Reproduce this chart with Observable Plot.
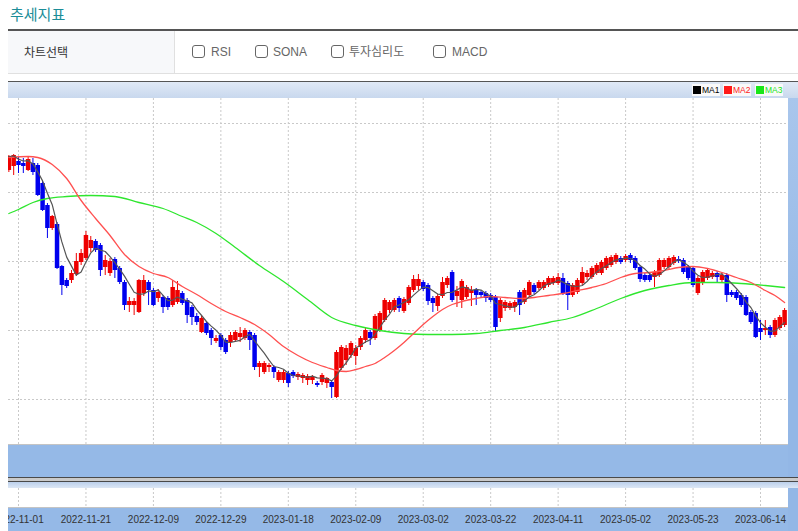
<!DOCTYPE html>
<html><head><meta charset="utf-8">
<script src="https://cdn.jsdelivr.net/npm/d3@7"></script>
<script src="https://cdn.jsdelivr.net/npm/@observablehq/plot@0.6"></script>
<style>
html,body{margin:0;padding:0;background:#fff;}
body{width:798px;height:531px;position:relative;overflow:hidden;font-family:"Liberation Sans","Noto Sans CJK KR",sans-serif;}
.abs{position:absolute;}
#title{left:10px;top:4px;font-family:"Noto Sans CJK KR",sans-serif;font-size:15px;line-height:20px;color:#1b8d98;}
#selrow{left:8px;top:29px;width:790px;height:42px;border-top:2px solid #555;border-bottom:1px solid #e0e0e0;}
#selhead{left:0;top:0;width:167px;height:42px;background:#f7f8fa;border-right:1px solid #e0e0e0;box-sizing:border-box;padding-left:16px;font-family:"Noto Sans CJK KR",sans-serif;font-size:12px;line-height:42px;color:#333;}
.cb{top:15px;width:11px;height:11px;border:1px solid #666;border-radius:3px;background:#fff;}
.cbl{top:13px;font-size:12px;line-height:16px;color:#666;}
.cbl.kr{font-family:"Noto Sans CJK KR",sans-serif;}
#ptop{left:8px;top:81px;width:790px;height:1px;background:#555;}
#pband{left:8px;top:82px;width:790px;height:16px;background:linear-gradient(#e0e9f6,#c8d8ee);}
#pright{left:788px;top:98px;width:10px;height:433px;background:linear-gradient(#a9c6ec,#93b7e6 60%);}
#pwhite{left:8px;top:98px;width:780px;height:346px;background:#fff;border-bottom:1px solid #c4c4c4;box-sizing:content-box;}
#pblue1{left:8px;top:445px;width:780px;height:32px;background:#95b9e7;}
#sep1{left:8px;top:477px;width:790px;height:1px;background:#4a4a4a;}
#sep2{left:8px;top:478px;width:790px;height:3px;background:#cacaca;}
#sep3{left:8px;top:481px;width:790px;height:1px;background:#4a4a4a;}
#sep4{left:8px;top:482px;width:790px;height:6px;background:linear-gradient(#bcd0ec,#dde7f5);}
#bwhite{left:8px;top:488px;width:780px;height:19px;background:#fff;border-bottom:1px solid #c4c4c4;}
#bblue{left:8px;top:508px;width:780px;height:23px;background:#95b9e7;}
#main{left:8px;top:98px;width:780px;height:346px;overflow:hidden;}
#bottom{left:8px;top:488px;width:780px;height:43px;overflow:hidden;}
.lg{top:84px;height:12px;background:#f9f9f9;font-size:8.5px;line-height:12px;}
.lg span.sq{display:inline-block;width:8px;height:8px;vertical-align:-1px;margin:0 1px 0 1px;}
</style></head>
<body>
<div id="title" class="abs">추세지표</div>
<div id="selrow" class="abs">
  <div id="selhead" class="abs">차트선택</div>
</div>
<div class="abs cb" style="left:192px;top:45px"></div><div class="abs cbl" style="left:211px;top:44px">RSI</div>
<div class="abs cb" style="left:255px;top:45px"></div><div class="abs cbl" style="left:273px;top:44px">SONA</div>
<div class="abs cb" style="left:331px;top:45px"></div><div class="abs cbl kr" style="left:349px;top:43px">투자심리도</div>
<div class="abs cb" style="left:433px;top:45px"></div><div class="abs cbl" style="left:452px;top:44px">MACD</div>

<div id="ptop" class="abs"></div>
<div id="pband" class="abs"></div>
<div id="pright" class="abs"></div>
<div id="pwhite" class="abs"></div>
<div id="pblue1" class="abs"></div>
<div id="sep1" class="abs"></div><div id="sep2" class="abs"></div><div id="sep3" class="abs"></div><div id="sep4" class="abs"></div>
<div id="bwhite" class="abs"></div>
<div id="bblue" class="abs"></div>
<div id="main" class="abs"></div>
<div id="bottom" class="abs"></div>
<div id="legend"></div>

<script>
// ---- data (daily candles, oldest first) ----
const opens = [3300,3340,3390,3370,3300,3370,3350,3170,2950,2720, 2760,2340,2200,2200,2260,2380,2420,2520,2590,2550, 2330,2270,2410,2320,2180,1950,1950,1880,2070,2180, 2100,2020,2030,2020,1950,1980,2070,2000,1930,1840, 1680,1770,1700,1590,1650,1600,1580,1600,1630,1620, 1680,1650,1330,1280,1330,1330,1200,1200,1270,1280, 1230,1220,1200,1200,1170,1180,1170,1180,1030,1320, 1400,1450,1440,1530,1600,1680,1620,1700,1800,1900, 1900,2020,1890,1970,2100,2140,2180,2150,2020,1940, 2040,2150,2280,2040,2000,2030,2070,2100,2080,2070, 2050,2030,1820,1920,1920,1930,2080,1980,2050,2150, 2120,2120,2150,2170,2170,2220,2170,2050,2080,2170, 2230,2230,2270,2270,2320,2350,2380,2420,2400,2450, 2420,2330,2250,2250,2230,2250,2330,2330,2370,2410, 2400,2330,2320,2070,2170,2220,2230,2270,2200,2250, 2080,2080,2050,2030,1880,1870,1720,1700,1730,1650, 1720,1750];
const highs = [3450,3460,3430,3420,3430,3420,3370,3190,2970,2850, 2780,2350,2220,2300,2470,2510,2690,2640,2610,2570, 2450,2420,2430,2340,2200,2030,2020,2210,2250,2200, 2120,2110,2050,2040,2200,2190,2090,2020,1950,1870, 1840,1790,1720,1650,1670,1620,1680,1700,1730,1720, 1700,1670,1390,1390,1370,1350,1300,1300,1290,1300, 1280,1270,1260,1250,1190,1270,1230,1200,1500,1550, 1550,1590,1550,1640,1720,1700,1860,1890,2020,2000, 2020,2040,2030,2150,2250,2260,2200,2170,2040,2060, 2230,2240,2300,2140,2210,2150,2140,2120,2100,2090, 2070,2050,2020,2000,1990,2000,2100,2120,2200,2170, 2200,2200,2240,2240,2270,2270,2190,2170,2220,2330, 2300,2340,2370,2400,2440,2450,2470,2440,2460,2470, 2440,2350,2270,2270,2300,2420,2420,2440,2450,2440, 2420,2350,2340,2240,2300,2320,2290,2290,2270,2270, 2100,2100,2070,2050,1900,1890,1800,1800,1750,1820, 1850,1920];
const lows = [3280,3250,3270,3270,3290,3250,3040,2890,2620,2700, 2310,2050,2120,2170,2240,2350,2400,2480,2480,2240, 2250,2240,2220,2160,1900,1880,1850,1870,2040,1950, 1940,1980,1870,1900,1930,1960,1950,1770,1750,1750, 1670,1650,1550,1570,1500,1460,1530,1580,1580,1600, 1500,1300,1230,1260,1280,1220,1180,1170,1130,1220, 1200,1170,1150,1160,1130,1150,1120,1020,1020,1300, 1350,1420,1350,1500,1570,1550,1600,1680,1780,1870, 1880,1880,1870,1950,2080,2100,2090,1950,1880,1890, 2020,2120,1980,1930,1920,2010,1940,1950,2030,1980, 1980,1690,1780,1890,1900,1880,1850,1960,2030,2060, 2100,2100,2130,2150,2150,2050,1900,2030,2060,2150, 2200,2210,2250,2250,2300,2330,2360,2360,2380,2370, 2300,2180,2180,2180,2130,2230,2310,2310,2350,2370, 2260,2200,2130,2050,2150,2200,2210,2170,2180,1980, 2030,2000,1930,1840,1760,1620,1600,1650,1620,1630, 1700,1730];
const closes = [3440,3450,3350,3340,3410,3280,3050,2900,2720,2840, 2320,2150,2140,2270,2390,2470,2650,2600,2500,2300, 2400,2390,2300,2180,1950,1990,1990,2200,2200,2100, 1950,2080,1930,1930,2130,2100,1970,1850,1830,1780, 1820,1670,1620,1620,1530,1480,1650,1680,1670,1700, 1600,1330,1370,1370,1350,1280,1280,1280,1170,1240, 1260,1250,1240,1230,1150,1250,1220,1130,1480,1530, 1520,1570,1520,1620,1700,1620,1840,1870,2000,1980, 2000,1920,2010,2130,2210,2210,2110,1990,1970,2040, 2180,2220,2000,2090,2190,2130,2100,2050,2050,2020, 2000,1730,2000,1980,1970,1980,1950,2100,2180,2080, 2180,2180,2220,2220,2230,2070,2050,2150,2200,2280, 2270,2320,2350,2380,2420,2430,2450,2380,2440,2400, 2320,2210,2200,2200,2280,2400,2400,2420,2430,2390, 2280,2220,2150,2220,2280,2300,2270,2230,2250,2050, 2050,2020,1950,1850,1780,1630,1680,1720,1650,1800, 1830,1900];

// MA2 / MA3 (trading-day index, value)
const ma2Day = [0,4,6,9,12,15,18,21,24,27,30,33,36,39,42,45,48,51,54,57,60,63,66,68,70,72,74,76,78,80,82,84,86,88,90,92,94,97,100,103,106,109,112,115,118,121,124,127,130,133,136,139,142,145,148,151,154,157,159,161];
const ma2Val = [3430,3440,3430,3360,3220,3000,2820,2650,2460,2340,2270,2230,2140,2060,1970,1890,1830,1760,1660,1540,1450,1380,1330,1300,1290,1310,1340,1370,1430,1500,1580,1670,1760,1840,1910,1960,1990,2020,2040,2030,2020,2030,2050,2070,2100,2130,2170,2230,2270,2280,2300,2330,2340,2320,2280,2230,2180,2100,2050,1980];
const ma3Day = [0,2,5,8,12,17,22,27,32,36,39,43,47,52,57,62,67,72,77,82,87,92,97,102,107,112,117,122,127,132,137,142,147,152,157,161];
const ma3Val = [2870,2910,2980,3020,3040,3050,3040,2980,2920,2840,2780,2670,2530,2350,2190,2010,1830,1750,1700,1670,1660,1660,1670,1700,1730,1780,1830,1920,2020,2100,2150,2180,2180,2170,2150,2130];

const tickDays = [2,16,30,44,58,72,86,100,114,128,142,156];
const tickLabels = ["2022-11-01","2022-11-21","2022-12-09","2022-12-29","2023-01-18","2023-02-09","2023-03-02","2023-03-22","2023-04-11","2023-05-02","2023-05-23","2023-06-14"];
const gridPrices = [1010,1700,2390,3080,3770];

const legendNames = ["MA1","MA2","MA3"];
const legendColors = ["#000000","#ff1a1a","#19e619"];

// ---- build ----
const rows = opens.map((o, k) => ({d: k, o, h: highs[k], l: lows[k], c: closes[k]}));
const up = rows.filter(r => r.c >= r.o);
const down = rows.filter(r => r.c < r.o);
const ma2 = ma2Day.map((d, k) => ({d, v: ma2Val[k]}));
const ma3 = ma3Day.map((d, k) => ({d, v: ma3Val[k]}));
const labelOf = new Map(tickDays.map((d, k) => [d, tickLabels[k]]));

const xDomain = [-0.075, 161.81];
const RED = "#ee0000", BLUE = "#0000ee";
const grid = {stroke: "#c9c9c9", strokeDasharray: "2,2", strokeWidth: 1};

const main = Plot.plot({
  width: 780, height: 346, margin: 0,
  x: {domain: xDomain, axis: null},
  y: {domain: [560, 4020], axis: null},
  style: {background: "transparent"},
  marks: [
    Plot.ruleY(gridPrices, grid),
    Plot.ruleX(tickDays, grid),
    Plot.ruleX(up, {x: "d", y1: "l", y2: "h", stroke: RED, strokeWidth: 1}),
    Plot.ruleX(down, {x: "d", y1: "l", y2: "h", stroke: BLUE, strokeWidth: 1}),
    Plot.ruleX(up, {x: "d", y1: "o", y2: "c", stroke: RED, strokeWidth: 4.5}),
    Plot.ruleX(down, {x: "d", y1: "o", y2: "c", stroke: BLUE, strokeWidth: 4.5}),
    Plot.line(ma3, {x: "d", y: "v", stroke: "#2ee62e", strokeWidth: 1.3, curve: "monotone-x"}),
    Plot.line(ma2, {x: "d", y: "v", stroke: "#ff5050", strokeWidth: 1.3, curve: "monotone-x"}),
    Plot.lineY(rows, Plot.windowY({k: 5, anchor: "end", reduce: "mean"}, {x: "d", y: "c", stroke: "#555", strokeWidth: 1.2}))
  ]
});
document.getElementById("main").appendChild(main);

const bottom = Plot.plot({
  width: 780, height: 43, marginTop: 0, marginBottom: 24, marginLeft: 0, marginRight: 0,
  x: {domain: xDomain, axis: null},
  y: {domain: [0, 1], axis: null},
  style: {background: "transparent", fontFamily: "Liberation Sans, sans-serif"},
  marks: [
    Plot.ruleX(tickDays, grid),
    Plot.axisX(tickDays, {tickSize: 0, tickPadding: 8, fontSize: 10, fill: "#333", label: null,
      tickFormat: d => labelOf.get(d)})
  ]
});
document.getElementById("bottom").appendChild(bottom);

// legend (top band)
const lg = document.getElementById("legend");
const lgLeft = [692, 723, 755];
legendNames.forEach((name, k) => {
  const div = document.createElement("div");
  div.className = "abs lg";
  div.style.left = lgLeft[k] + "px";
  div.style.width = "28px";
  div.innerHTML = `<span class="sq" style="background:${legendColors[k]}"></span><span style="color:${legendColors[k]}">${name}</span>`;
  lg.appendChild(div);
});
</script>
</body></html>
